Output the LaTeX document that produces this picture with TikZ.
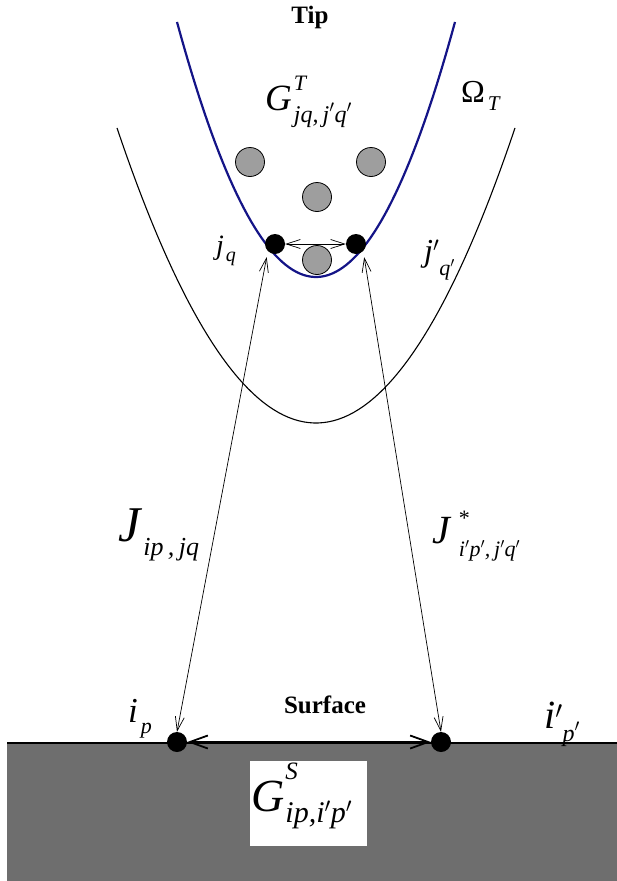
\documentclass[tikz,border=0pt]{standalone}
\usepackage{fontspec}
\setmainfont{Liberation Serif}
\usetikzlibrary{arrows.meta}
\definecolor{tipblue}{RGB}{20,20,135}
% a piece of text at a given size
\newcommand{\fs}[2]{{\fontsize{#1}{#1}\selectfont #2}}

\begin{document}
\begin{tikzpicture}[x=1pt, y=-1pt,
    atom/.style={circle, fill=black, inner sep=0pt, minimum size=20pt},
    grain/.style={circle, draw=black, fill=black!38, inner sep=0pt, minimum size=29pt, line width=0.8pt},
    lbl/.style={inner sep=0pt, anchor=base west},
    lite/.tip={Straight Barb[length=14pt, width=9pt]},
    heavy/.tip={Straight Barb[length=18pt, width=13pt]}]
    \useasboundingbox (0,0) rectangle (617,881);

    % surface block
    \fill[black!57] (7,743) rectangle (617,881);
    \draw[line width=2pt] (7,743) -- (617,743);
    \fill[white] (250,761) rectangle (367,846);

    % Omega_T and the tip apex
    \draw[line width=1.1pt] plot[domain=-199:199, samples=80]
        ({316+\x}, {423-0.745*(\x/10)*(\x/10)});
    \draw[tipblue, line width=2.2pt] plot[domain=-139:139, samples=80]
        ({316+\x}, {277-1.32*(\x/10)*(\x/10)});

    \node[grain] (g1) at (250,162) {};
    \node[grain] (g2) at (371,162) {};
    \node[grain] (g3) at (317,197) {};
    \node[grain] (g4) at (317,260) {};

    \node[atom] (jq)  at (275,244) {};
    \node[atom] (jqp) at (356,244) {};
    \node[atom] (ip)  at (177,742) {};
    \node[atom] (ipp) at (441,742) {};

    \draw[lite-lite, line width=0.7pt] (jq) -- (jqp);
    \draw[lite-lite, line width=0.7pt, shorten <=6pt] (jq.south west) -- (ip.north);
    \draw[lite-lite, line width=0.7pt, shorten <=6pt] (jqp.south east) -- (ipp.north);
    \draw[heavy-heavy, line width=1.8pt] (ip) -- (ipp);

    % labels
    \node[lbl, anchor=base] (tiplbl) at (310,23) {\fs{25}{\bfseries Tip}};
    \node[lbl, anchor=base] (surflbl) at (325,713) {\fs{25}{\bfseries Surface}};
    \node[lbl] (gtlbl) at (265,110)
        {\fs{37}{\itshape G}\kern2pt\rlap{\raisebox{20pt}{\fs{22}{\itshape T}}}\raisebox{-12pt}{\fs{24}{\itshape jq,\,j$'$q$'$}}};
    \node[lbl] (omlbl) at (461,102) {\fs{32}{Ω}\kern3pt\raisebox{-8pt}{\fs{21}{\itshape T}}};
    \node[lbl] (jqlbl) at (216,254) {\fs{28}{\itshape j}\kern2pt\raisebox{-7pt}{\fs{20}{\itshape q}}};
    \node[lbl] (jqplbl) at (424,261) {\fs{32}{\itshape j$'$}\raisebox{-14pt}{\fs{22}{\itshape q$'$}}};
    \node[lbl] (jlbl) at (118,541) {\fs{50}{\itshape J}\kern3pt\raisebox{-14pt}{\fs{26}{\itshape ip\,,\,jq}}};
    \node[lbl] (jslbl) at (432,543)
        {\fs{40}{\itshape J}\kern9pt\rlap{\raisebox{18pt}{\fs{22}{*}}}\raisebox{-13pt}{\fs{22}{\itshape i$'$p$'$,\,j$'$q$'$}}};
    \node[lbl] (iplbl) at (128,722) {\fs{35}{\itshape i}\kern3pt\raisebox{-11pt}{\fs{22}{\itshape p}}};
    \node[lbl] (ipplbl) at (544,728) {\fs{40}{\itshape i$'$}\raisebox{-13pt}{\fs{24}{\itshape p$'$}}};
    \node[lbl] (gslbl) at (251,811)
        {\fs{46}{\itshape G}\kern1pt\rlap{\raisebox{32pt}{\fs{25}{\itshape S}}}\raisebox{-11pt}{\fs{30}{\itshape ip,i$'$p$'$}}};
\end{tikzpicture}
\end{document}
